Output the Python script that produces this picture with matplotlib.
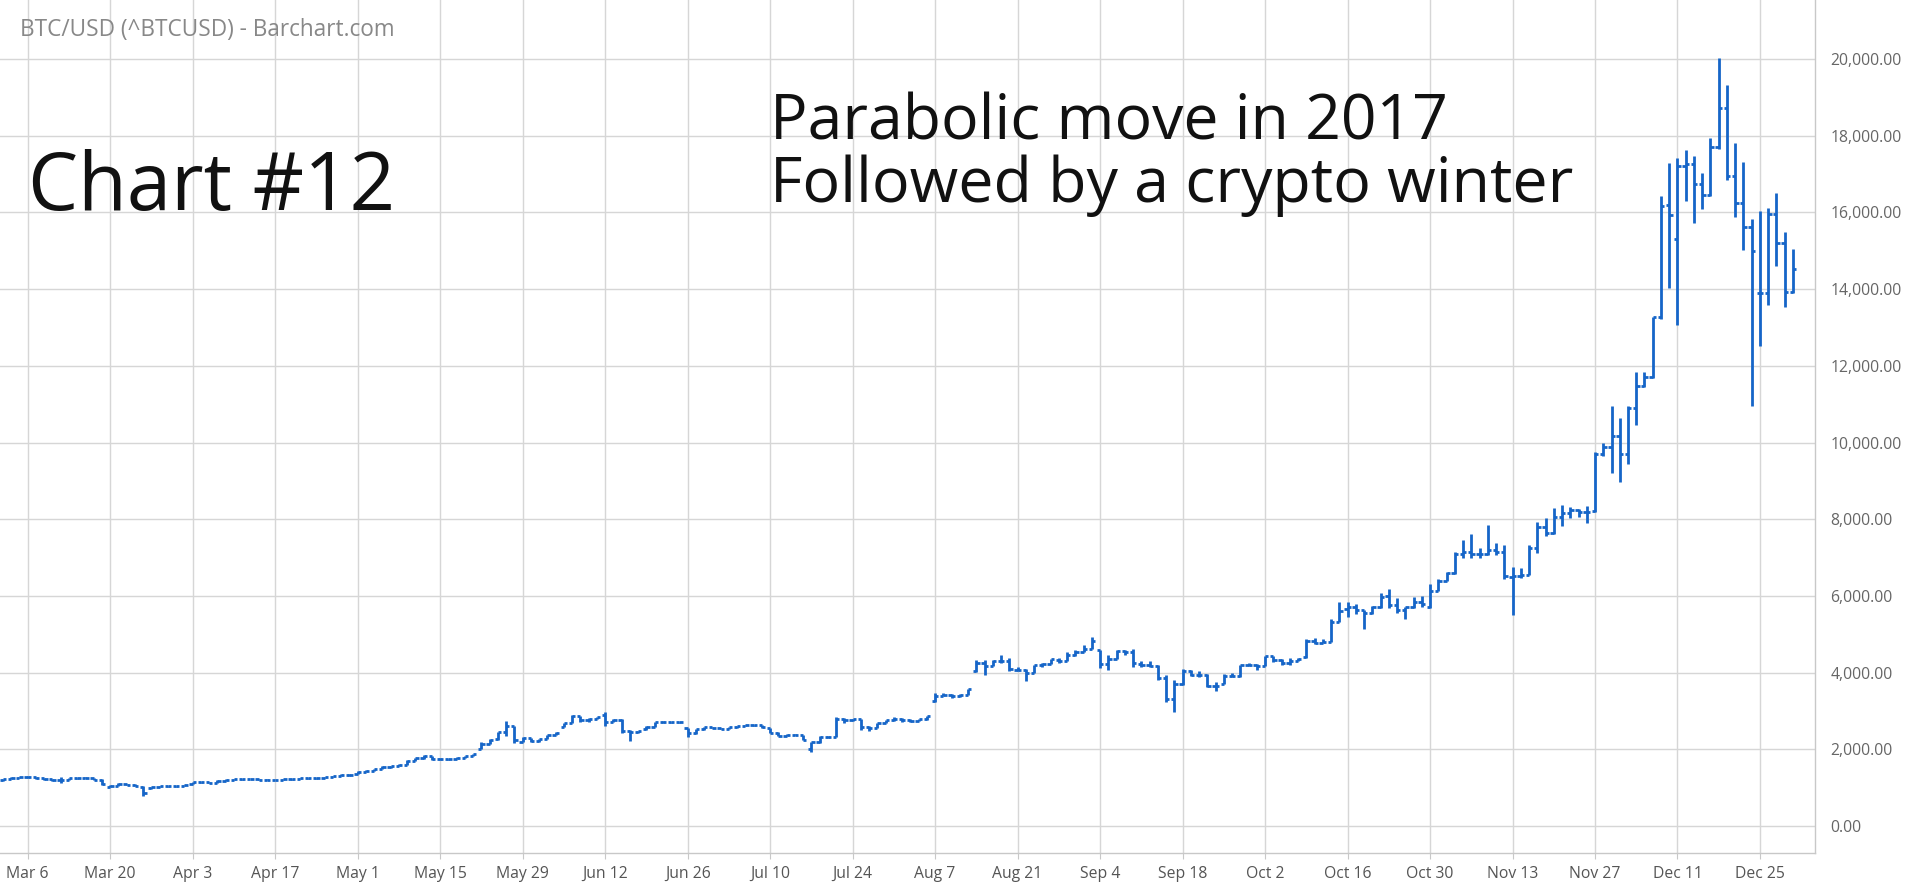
import numpy as np
import pandas as pd
import matplotlib
matplotlib.use("Agg")
from matplotlib import pyplot as plt
from matplotlib.collections import LineCollection

plt.rcParams['font.family'] = ['Open Sans', 'DejaVu Sans']

# weekday bars, BTC/USD 2017
dates = pd.bdate_range('2017-03-01', '2017-12-29')

opens = [
    # Mar
    1190, 1225, 1255, 1275, 1285, 1245, 1215, 1195, 1200, 1240, 1245, 1255, 1210,
    1030, 1040, 1100, 1080, 1030, 980, 1010, 1045, 1040, 1045,
    # Apr
    1090, 1140, 1150, 1130, 1185, 1205, 1215, 1225, 1222, 1210,
    1195, 1200, 1215, 1220, 1245, 1245, 1250, 1270, 1300, 1335,
    # May
    1365, 1420, 1445, 1480, 1545, 1570, 1600, 1705, 1765, 1830,
    1760, 1735, 1748, 1782, 1825, 2010, 2150, 2260, 2440, 2600, 2200, 2290, 2210,
    # Jun
    2270, 2370, 2590, 2680, 2860, 2760, 2790, 2900, 2720, 2760, 2480, 2450,
    2520, 2590, 2710, 2720, 2700, 2560, 2420, 2520, 2570, 2560,
    # Jul
    2540, 2570, 2610, 2630, 2625, 2560, 2430, 2350, 2380, 2375,
    2000, 2180, 2330, 2320, 2800, 2770, 2790, 2570, 2560, 2680, 2760,
    # Aug
    2800, 2770, 2740, 2780, 3250, 3400, 3420, 3380, 3420, 4050, 4240, 4180,
    4300, 4300, 4080, 4080, 4000, 4200, 4230, 4340, 4300, 4460, 4540,
    # Sep
    4620, 4590, 4230, 4360, 4560, 4550, 4220, 4200, 4180, 3870, 3300,
    3700, 4050, 3950, 3950, 3660, 3700, 3920, 3900, 4200, 4200,
    # Oct
    4180, 4420, 4320, 4260, 4300, 4400, 4830, 4780, 4800, 5330, 5650,
    5720, 5620, 5560, 5700, 5990, 5760, 5620, 5700, 5850, 5700, 6130,
    # Nov
    6400, 6600, 7100, 7150, 7100, 7080, 7210, 7140, 6500, 6530, 6550,
    7240, 7800, 7650, 8050, 8170, 8250, 8200, 8220, 9700, 9880, 10170,
    # Dec
    9690, 10910, 11475, 11700, 13260, 16190, 15300, 17220, 17250, 16750, 16450,
    17700, 18730, 16960, 16250, 15630, 13890, 13900, 15950, 15210, 13920,
]
highs = [
    1235, 1265, 1290, 1295, 1290, 1250, 1225, 1290, 1250, 1255, 1265, 1260, 1215,
    1060, 1110, 1105, 1085, 1040, 1020, 1050, 1055, 1050, 1075,
    1150, 1160, 1155, 1190, 1220, 1225, 1230, 1230, 1225, 1215,
    1210, 1220, 1225, 1250, 1255, 1255, 1275, 1305, 1345, 1345,
    1425, 1455, 1490, 1560, 1575, 1610, 1720, 1780, 1850, 1835,
    1780, 1755, 1790, 1830, 1890, 2190, 2260, 2460, 2750, 2610, 2330, 2300, 2280,
    2380, 2440, 2690, 2900, 2865, 2810, 2845, 2970, 2790, 2780, 2500, 2490,
    2600, 2720, 2730, 2725, 2715, 2565, 2530, 2580, 2575, 2565,
    2580, 2615, 2635, 2640, 2630, 2565, 2440, 2390, 2390, 2380,
    2200, 2340, 2345, 2830, 2810, 2800, 2795, 2600, 2690, 2775, 2830,
    2810, 2780, 2790, 2870, 3460, 3470, 3430, 3440, 3580, 4330, 4330, 4330,
    4460, 4370, 4150, 4090, 4210, 4250, 4360, 4370, 4550, 4580, 4720,
    4920, 4600, 4470, 4600, 4600, 4610, 4290, 4290, 4190, 3930, 3800,
    4100, 4060, 4030, 3960, 3750, 3960, 3980, 4210, 4260, 4230,
    4430, 4440, 4350, 4380, 4390, 4870, 4900, 4880, 5390, 5850, 5850,
    5790, 5630, 5730, 6070, 6180, 5940, 5720, 5980, 5990, 6300, 6450,
    6620, 7150, 7460, 7610, 7260, 7850, 7370, 7320, 6760, 6730, 7330,
    7930, 8030, 8290, 8370, 8310, 8260, 8340, 9740, 9980, 10940, 10650,
    10940, 11850, 11850, 13260, 16430, 17290, 17410, 17640, 17460, 17020, 17930,
    20020, 19320, 17800, 17310, 15820, 16040, 16110, 16500, 15500, 15040,
]
lows = [
    1185, 1220, 1250, 1260, 1225, 1200, 1180, 1130, 1195, 1230, 1240, 1200, 1080,
    1010, 1035, 1070, 1040, 780, 975, 1005, 1030, 1030, 1040,
    1085, 1130, 1120, 1125, 1180, 1200, 1210, 1215, 1200, 1195,
    1190, 1198, 1210, 1218, 1238, 1238, 1245, 1265, 1298, 1310,
    1360, 1415, 1440, 1475, 1520, 1565, 1595, 1700, 1760, 1730,
    1720, 1720, 1740, 1775, 1820, 2000, 2140, 2250, 2350, 2170, 2190, 2180, 2200,
    2265, 2360, 2580, 2675, 2720, 2700, 2780, 2600, 2700, 2420, 2220, 2420,
    2510, 2585, 2690, 2690, 2685, 2330, 2410, 2515, 2545, 2520,
    2535, 2565, 2600, 2615, 2560, 2420, 2340, 2345, 2360, 2230,
    1930, 2170, 2300, 2310, 2690, 2750, 2500, 2470, 2555, 2675, 2750,
    2700, 2720, 2735, 2775, 3230, 3380, 3340, 3370, 3415, 4020, 3940, 4170,
    4260, 4030, 4030, 3770, 3990, 4150, 4220, 4250, 4290, 4440, 4530,
    4610, 4130, 4070, 4350, 4450, 4150, 4150, 4140, 3800, 3240, 2980,
    3680, 3900, 3890, 3620, 3530, 3690, 3890, 3890, 4160, 4080,
    4170, 4280, 4210, 4190, 4290, 4390, 4750, 4770, 4790, 5310, 5460,
    5530, 5130, 5520, 5680, 5680, 5560, 5400, 5680, 5700, 5680, 6120,
    6390, 6580, 6980, 6990, 7000, 7070, 7060, 6430, 5500, 6460, 6540,
    7120, 7560, 7620, 7830, 8020, 8050, 7900, 8200, 9650, 9210, 8970,
    9450, 10460, 11450, 11670, 13210, 14020, 13070, 16290, 15720, 16080, 16430,
    17650, 16850, 15870, 15020, 10950, 12520, 13590, 14610, 13545, 13890,
]
closes = [
    1225, 1255, 1280, 1285, 1245, 1215, 1195, 1190, 1240, 1245, 1255, 1210, 1100,
    1040, 1100, 1080, 1050, 850, 1010, 1045, 1040, 1045, 1070,
    1140, 1150, 1130, 1185, 1210, 1215, 1225, 1222, 1210, 1200,
    1200, 1215, 1220, 1245, 1248, 1250, 1270, 1300, 1335, 1330,
    1420, 1445, 1480, 1545, 1560, 1600, 1705, 1765, 1830, 1745,
    1735, 1748, 1782, 1825, 1880, 2150, 2240, 2440, 2600, 2230, 2290, 2210, 2270,
    2370, 2430, 2680, 2860, 2760, 2790, 2830, 2720, 2760, 2480, 2450, 2470,
    2590, 2710, 2720, 2700, 2700, 2420, 2520, 2570, 2560, 2530,
    2570, 2610, 2630, 2625, 2570, 2430, 2350, 2380, 2375, 2240,
    2180, 2330, 2320, 2800, 2760, 2790, 2570, 2560, 2680, 2760, 2800,
    2770, 2740, 2780, 2860, 3400, 3420, 3380, 3420, 3560, 4240, 4180, 4300,
    4300, 4100, 4080, 4000, 4200, 4230, 4350, 4300, 4460, 4540, 4620,
    4830, 4230, 4360, 4560, 4550, 4250, 4200, 4180, 3870, 3300, 3700,
    4050, 3950, 3950, 3660, 3650, 3920, 3900, 4200, 4200, 4180,
    4420, 4320, 4260, 4300, 4350, 4830, 4780, 4800, 5330, 5600, 5720,
    5620, 5560, 5700, 5980, 5760, 5620, 5700, 5850, 5790, 6130, 6400,
    6600, 7100, 7150, 7100, 7080, 7210, 7140, 6520, 6530, 6550, 7240,
    7800, 7650, 8050, 8170, 8250, 8200, 8200, 9700, 9880, 10170, 9690,
    10910, 11475, 11700, 13260, 16180, 15930, 17220, 17250, 16750, 16450, 17700,
    18730, 16960, 16250, 15630, 15000, 13900, 15950, 15210, 13920, 14520,
]

tick_labels = ["Mar 6", "Mar 20", "Apr 3", "Apr 17", "May 1", "May 15", "May 29",
               "Jun 12", "Jun 26", "Jul 10", "Jul 24", "Aug 7", "Aug 21", "Sep 4",
               "Sep 18", "Oct 2", "Oct 16", "Oct 30", "Nov 13", "Nov 27", "Dec 11",
               "Dec 25"]
y_ticks = np.arange(0, 20001, 2000)

W, H = 1907, 888
fig = plt.figure(figsize=(W / 100, H / 100), dpi=100)
ax = fig.add_axes([0, 35 / H, 1815 / W, 853 / H])

blue = '#1565c8'
x = np.arange(len(dates))
tw = 0.4
segs = []
for i in range(len(dates)):
    segs.append([(x[i], lows[i]), (x[i], highs[i])])
    segs.append([(x[i] - tw, opens[i]), (x[i], opens[i])])
    segs.append([(x[i], closes[i]), (x[i] + tw, closes[i])])
lc = LineCollection(segs, colors=blue, linewidths=2.0, capstyle='butt', zorder=3)
ax.add_collection(lc)

ax.set_xlim(-0.36, 219.67)
ax.set_ylim(-704, 21539)

# x ticks at the labelled Mondays
tick_dates = pd.to_datetime([t + " 2017" for t in tick_labels], format="%b %d %Y")
tick_pos = [dates.get_loc(d) for d in tick_dates]
ax.set_xticks(tick_pos)
ax.set_xticklabels(tick_labels)

ax.yaxis.tick_right()
ax.set_yticks(y_ticks)
ax.set_yticklabels([f"{v:,.2f}" for v in y_ticks])

ax.grid(True, color='#d6d6d6', linewidth=1.0, zorder=0)
for s in ['left', 'top']:
    ax.spines[s].set_visible(False)
for s in ['right', 'bottom']:
    ax.spines[s].set_color('#c8c8c8')
    ax.spines[s].set_linewidth(1.0)

ax.tick_params(axis='x', length=4, color='#c8c8c8', pad=5, labelsize=11.3,
               labelcolor='#555555')
ax.tick_params(axis='y', length=0, pad=11, labelsize=11.3, labelcolor='#666666')

fig.text(20 / W, 1 - 36 / H, "BTC/USD (^BTCUSD) - Barchart.com", fontsize=16.3,
         color='#888888', va='baseline', ha='left')
fig.text(28 / W, 1 - 210 / H, "Chart #12", fontsize=57.3, color='#111111',
         va='baseline', ha='left')
fig.text(770 / W, 1 - 140 / H, "Parabolic move in 2017", fontsize=45,
         color='#111111', va='baseline', ha='left')
fig.text(770 / W, 1 - 202 / H, "Followed by a crypto winter", fontsize=45.2,
         color='#111111', va='baseline', ha='left')

fig.savefig('out.png', dpi=100)
